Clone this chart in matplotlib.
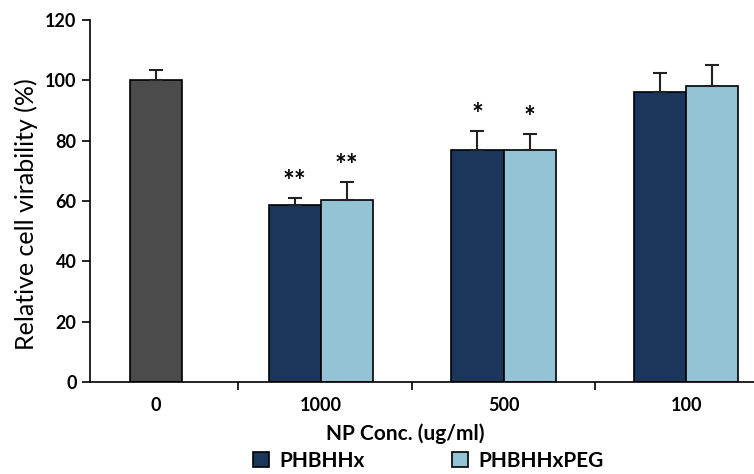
import matplotlib
matplotlib.use("Agg")
import matplotlib.pyplot as plt
import numpy as np

# data
conc_labels = ["0", "1000", "500", "100"]
control_val = 100.0
control_err = 3.4
phbhhx_val = [58.8, 77.0, 96.2]
phbhhx_err = [2.3, 6.2, 6.3]
peg_val = [60.3, 77.0, 98.0]
peg_err = [6.1, 5.3, 6.9]
phbhhx_sig = ["**", "*", ""]
peg_sig = ["**", "*", ""]

plt.rcParams['font.family'] = ['Lato', 'DejaVu Sans']

fig = plt.figure(figsize=(7.54, 4.74), dpi=100)
ax = fig.add_axes([0.119, 0.194, 0.881, 0.764])

pos = np.array([0.0, 0.9, 1.9, 2.9])
w = 0.285
dark = "#1b365d"
light = "#94c3d6"
ekw = dict(ecolor="#222222", elinewidth=1.5, capsize=5, capthick=1.5)

ax.bar(pos[0], control_val, w, color="#4b4b4b", edgecolor="black", linewidth=1.2)
ax.errorbar(pos[0], control_val, yerr=[[0], [control_err]], fmt="none", **ekw)

x1 = pos[1:] - w / 2
x2 = pos[1:] + w / 2
ax.bar(x1, phbhhx_val, w, color=dark, edgecolor="black", linewidth=1.2, label="PHBHHx")
ax.bar(x2, peg_val, w, color=light, edgecolor="black", linewidth=1.2, label="PHBHHxPEG")
ax.errorbar(x1, phbhhx_val, yerr=[np.zeros(3), phbhhx_err], fmt="none", **ekw)
ax.errorbar(x2, peg_val, yerr=[np.zeros(3), peg_err], fmt="none", **ekw)

for xs, vals, errs, sig in [(x1, phbhhx_val, phbhhx_err, phbhhx_sig),
                            (x2, peg_val, peg_err, peg_sig)]:
    for x, v, e, s in zip(xs, vals, errs, sig):
        if s:
            ax.text(x, v + e + 1.0, s, ha="center", va="bottom",
                    fontsize=20, fontweight="bold")

ax.set_xlim(-0.363, 3.27)
ax.set_ylim(0, 120)
ax.set_yticks(np.arange(0, 121, 20))
ax.set_xticks(pos)
ax.set_xticklabels(conc_labels)
ax.set_xticks((pos[:-1] + pos[1:]) / 2, minor=True)
ax.tick_params(axis="x", which="major", length=0, pad=11, labelsize=13)
ax.tick_params(axis="x", which="minor", length=6, width=1.2)
ax.tick_params(axis="y", length=6, width=1.2, labelsize=13)
for lab in ax.get_xticklabels() + ax.get_yticklabels():
    lab.set_fontweight("bold")

ax.spines["top"].set_visible(False)
ax.spines["right"].set_visible(False)
ax.spines["left"].set_linewidth(1.2)
ax.spines["bottom"].set_linewidth(1.2)

ax.set_ylabel("Relative cell virability (%)", fontsize=18)
ax.yaxis.set_label_coords(-0.078, 0.464)
fig.text(0.537, 0.085, "NP Conc. (ug/ml)", ha="center", va="center",
         fontsize=15, fontweight="bold")

fig.legend(loc="center", bbox_to_anchor=(0.568, 0.028), ncol=2, frameon=False,
           prop={"weight": "bold", "size": 15},
           handlelength=0.75, handleheight=0.75, columnspacing=4.2, handletextpad=0.5)

fig.savefig("out.png", dpi=100)
